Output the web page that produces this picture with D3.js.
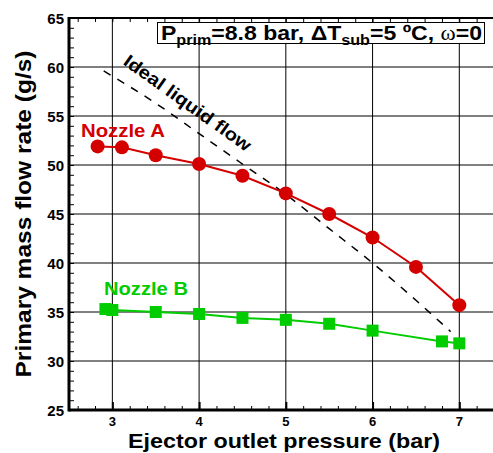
<!DOCTYPE html>
<html>
<head>
<meta charset="utf-8">
<script src="https://cdn.jsdelivr.net/npm/d3@7"></script>
<style>
  body { margin: 0; background: #fff; }
  svg { display: block; font-family: Arial, "Liberation Sans", sans-serif; }
</style>
</head>
<body>
<div id="viz"></div>
<script>
// data
const pressureA = [2.83, 3.11, 3.5, 4.0, 4.5, 5.0, 5.5, 6.0, 6.5, 7.0];
const flowA = [51.9, 51.8, 51.0, 50.1, 48.9, 47.1, 45.0, 42.6, 39.6, 35.7];

const pressureB = [2.92, 3.0, 3.5, 4.0, 4.5, 5.0, 5.5, 6.0, 6.8, 7.0];
const flowB = [35.3, 35.2, 35.0, 34.8, 34.4, 34.2, 33.8, 33.1, 32.0, 31.8];

const pressureIdeal = [2.9, 3.5, 4.0, 4.5, 5.0, 5.5, 6.0, 6.5, 6.9];
const flowIdeal = [59.6, 56.3, 53.2, 50.1, 47.0, 43.5, 40.0, 36.2, 33.0];

const xTicks = [3, 4, 5, 6, 7];
const yTicks = [25, 30, 35, 40, 45, 50, 55, 60, 65];

const margin = { top: 18, left: 69 },
  width = 425,
  height = 392;

const svg = d3.select('#viz')
  .append('svg')
  .attr('width', 493)
  .attr('height', 453);

const xScale = d3.scaleLinear()
  .domain([2.5, 7.4])
  .range([margin.left, margin.left + width]);

const yScale = d3.scaleLinear()
  .domain([25, 65])
  .range([margin.top + height, margin.top]);

const red = '#d40000',
  green = '#00cc00';

// grid
const grid = svg.append('g');
grid.selectAll('.gx').data(xTicks)
  .enter().append('line')
  .attr('x1', d => xScale(d)).attr('x2', d => xScale(d))
  .attr('y1', margin.top).attr('y2', margin.top + height)
  .attr('stroke', '#000').attr('stroke-width', 1);
grid.selectAll('.gy').data(yTicks)
  .enter().append('line')
  .attr('x1', margin.left).attr('x2', margin.left + width)
  .attr('y1', d => yScale(d)).attr('y2', d => yScale(d))
  .attr('stroke', '#000').attr('stroke-width', 1);

// inward ticks
const xMinor = d3.range(2.6, 7.41, 0.2);
const yMinor = d3.range(25, 65.1, 1);

svg.append('g')
  .attr('transform', 'translate(0,' + (margin.top + height) + ')')
  .call(d3.axisTop(xScale).tickValues(xMinor).tickSize(4).tickFormat(''))
  .call(g => g.select('.domain').remove());
svg.append('g')
  .attr('transform', 'translate(0,' + (margin.top + height) + ')')
  .call(d3.axisTop(xScale).tickValues(xTicks).tickSize(8).tickFormat(''))
  .call(g => g.select('.domain').remove())
  .call(g => g.selectAll('line').attr('stroke-width', 2));

svg.append('g')
  .attr('transform', 'translate(0,' + margin.top + ')')
  .call(d3.axisBottom(xScale).tickValues(xMinor).tickSize(4).tickFormat(''))
  .call(g => g.select('.domain').remove());

svg.append('g')
  .attr('transform', 'translate(' + margin.left + ',0)')
  .call(d3.axisRight(yScale).tickValues(yMinor).tickSize(5).tickFormat(''))
  .call(g => g.select('.domain').remove());

// tick labels
svg.append('g').selectAll('text').data(xTicks)
  .enter().append('text')
  .attr('x', d => xScale(d))
  .attr('y', 426)
  .attr('text-anchor', 'middle')
  .attr('font-size', 13)
  .attr('font-weight', 'bold')
  .text(d => d);

svg.append('g').selectAll('text').data(yTicks)
  .enter().append('text')
  .attr('x', 64)
  .attr('y', d => yScale(d) + 5.5)
  .attr('text-anchor', 'end')
  .attr('font-size', 15)
  .attr('font-weight', 'bold')
  .text(d => d);

// frame
svg.append('line')
  .attr('x1', margin.left).attr('x2', margin.left)
  .attr('y1', margin.top - 1).attr('y2', margin.top + height + 1.5)
  .attr('stroke', '#000').attr('stroke-width', 3);
svg.append('line')
  .attr('x1', margin.left).attr('x2', 493)
  .attr('y1', margin.top + height).attr('y2', margin.top + height)
  .attr('stroke', '#000').attr('stroke-width', 3);
svg.append('line')
  .attr('x1', margin.left).attr('x2', 493)
  .attr('y1', margin.top).attr('y2', margin.top)
  .attr('stroke', '#000').attr('stroke-width', 2);

// axis titles
svg.append('text')
  .attr('x', 284)
  .attr('y', 448)
  .attr('text-anchor', 'middle')
  .attr('font-size', 21)
  .attr('font-weight', 'bold')
  .attr('textLength', 312)
  .attr('lengthAdjust', 'spacingAndGlyphs')
  .text('Ejector outlet pressure (bar)');

svg.append('text')
  .attr('transform', 'translate(31,' + (margin.top + height / 2) + ') rotate(-90)')
  .attr('text-anchor', 'middle')
  .attr('font-size', 22)
  .attr('font-weight', 'bold')
  .attr('textLength', 327)
  .attr('lengthAdjust', 'spacingAndGlyphs')
  .text('Primary mass flow rate (g/s)');

const line = d3.line()
  .x(d => xScale(d[0]))
  .y(d => yScale(d[1]));

// ideal liquid flow
svg.append('path')
  .datum(d3.zip(pressureIdeal, flowIdeal))
  .attr('d', d3.line().curve(d3.curveMonotoneX).x(d => xScale(d[0])).y(d => yScale(d[1])))
  .attr('fill', 'none')
  .attr('stroke', '#000')
  .attr('stroke-width', 1.5)
  .attr('stroke-dasharray', '8,8');

// nozzle B
svg.append('path')
  .datum(d3.zip(pressureB, flowB))
  .attr('d', line)
  .attr('fill', 'none')
  .attr('stroke', green)
  .attr('stroke-width', 2);
svg.append('g').selectAll('rect')
  .data(d3.zip(pressureB, flowB))
  .enter().append('rect')
  .attr('x', d => xScale(d[0]) - 6)
  .attr('y', d => yScale(d[1]) - 6)
  .attr('width', 12)
  .attr('height', 12)
  .attr('fill', green);

// nozzle A
svg.append('path')
  .datum(d3.zip(pressureA, flowA))
  .attr('d', line)
  .attr('fill', 'none')
  .attr('stroke', red)
  .attr('stroke-width', 2);
svg.append('g').selectAll('circle')
  .data(d3.zip(pressureA, flowA))
  .enter().append('circle')
  .attr('cx', d => xScale(d[0]))
  .attr('cy', d => yScale(d[1]))
  .attr('r', 7)
  .attr('fill', red);

// labels
svg.append('text')
  .attr('x', 81).attr('y', 137)
  .attr('font-size', 19).attr('font-weight', 'bold')
  .attr('textLength', 84).attr('lengthAdjust', 'spacingAndGlyphs')
  .attr('fill', red)
  .text('Nozzle A');

svg.append('text')
  .attr('x', 104).attr('y', 295)
  .attr('font-size', 19).attr('font-weight', 'bold')
  .attr('textLength', 84).attr('lengthAdjust', 'spacingAndGlyphs')
  .attr('fill', green)
  .text('Nozzle B');

svg.append('text')
  .attr('transform', 'translate(184,108) rotate(35.5)')
  .attr('text-anchor', 'middle')
  .attr('font-size', 18).attr('font-weight', 'bold')
  .attr('textLength', 152).attr('lengthAdjust', 'spacingAndGlyphs')
  .attr('fill', '#000')
  .text('Ideal liquid flow');

// condition box
const box = svg.append('g');
box.append('rect')
  .attr('x', 157.5).attr('y', 22.5)
  .attr('width', 327).attr('height', 21)
  .attr('fill', '#fff')
  .attr('stroke', '#000').attr('stroke-width', 1);
const t = box.append('text')
  .attr('x', 161).attr('y', 40)
  .attr('font-size', 20).attr('font-weight', 'bold')
  .attr('textLength', 321).attr('lengthAdjust', 'spacingAndGlyphs');
t.append('tspan').text('P');
t.append('tspan').attr('font-size', 14).attr('dy', 5).text('prim');
t.append('tspan').attr('dy', -5).text('=8.8 bar, \u0394T');
t.append('tspan').attr('font-size', 14).attr('dy', 5).text('sub');
t.append('tspan').attr('dy', -5).text('=5 \u00baC, ');
t.append('tspan').attr('font-weight', 'normal').attr('font-family', 'serif').text('\u03c9');
t.append('tspan').text('=0');
</script>
</body>
</html>
